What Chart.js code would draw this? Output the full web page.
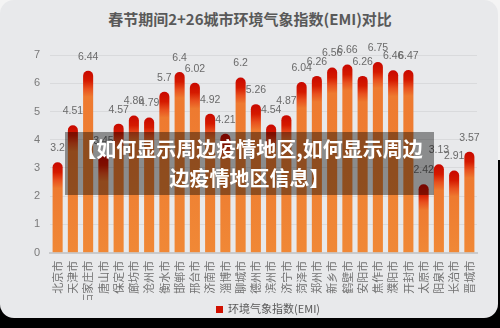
<!DOCTYPE html>
<html>
<head>
<meta charset="utf-8">
<script src="https://cdn.jsdelivr.net/npm/chart.js@4"></script>
<style>
  html, body { margin:0; padding:0; }
  body { width:500px; height:328px; background:linear-gradient(to bottom,#f4f4f4 0 160px,#000 160px); position:relative; overflow:hidden; }
  #card { position:absolute; left:0; top:0; width:498px; height:318px; background:#E8E9EB; border-radius:14px; }
  #title { position:absolute; left:0; top:8px; width:500px; text-align:center; font:bold 15px "Noto Sans CJK SC", sans-serif; color:#595959; }
  #wrap { position:absolute; left:0; top:0; width:500px; height:318px; }
  #legend { position:absolute; left:216px; top:300px; font:11px "Noto Sans CJK SC", sans-serif; color:#595959; }
  #legend i { display:inline-block; width:7px; height:7px; background:#D01000; margin-right:5px; vertical-align:0px; }
  #banner { position:absolute; left:65px; top:132px; width:369px; height:63px; background:rgba(0,0,0,0.4); color:#fff; text-align:center; font:bold 20px "Noto Sans CJK SC", sans-serif; line-height:29px; padding-top:2px; box-sizing:border-box; }
</style>
</head>
<body>
<div id="card"></div>
<div id="title">春节期间2+26城市环境气象指数(EMI)对比</div>
<div id="wrap"><canvas id="myChart" width="500" height="318"></canvas></div>
<div id="legend"><i></i>环境气象指数(EMI)</div>
<div id="banner">【如何显示周边疫情地区,如何显示周边<br>边疫情地区信息】</div>
<script>
const cities = ['北京市','天津市','石家庄市','唐山市','保定市','廊坊市','沧州市','衡水市','邯郸市','邢台市',
  '济南市','淄博市','聊城市','德州市','滨州市','济宁市','菏泽市','郑州市','新乡市','鹤壁市',
  '安阳市','焦作市','濮阳市','开封市','太原市','阳泉市','长治市','晋城市']
const emi = [3.2,4.51,6.44,3.45,4.57,4.86,4.79,5.7,6.4,6.02,
  4.92,4.21,6.2,5.26,4.54,4.87,6.04,6.26,6.56,6.66,
  6.26,6.75,6.46,6.47,2.42,3.13,2.91,3.57]
const yTicks = [0,1,2,3,4,5,6,7]

// gradient: red cap on top, orange body
function barFill(ctx){
  const chart = ctx.chart
  const y = chart.scales.y
  if (!y || ctx.raw == null) return '#EE7A30'
  const top = y.getPixelForValue(ctx.raw)
  const base = y.getPixelForValue(0)
  const h = base - top
  if (!isFinite(top) || !isFinite(base) || h <= 0) return '#EE7A30'
  const g = chart.ctx.createLinearGradient(0, top, 0, base)
  const f = px => Math.min(1, px / h)
  g.addColorStop(0, '#C80800')
  g.addColorStop(f(10), '#D51A00')
  g.addColorStop(f(18), '#E8501E')
  g.addColorStop(f(26), '#EE7A30')
  g.addColorStop(1, '#F08836')
  return g
}

const valueLabels = {
  id: 'valueLabels',
  afterDatasetsDraw(chart){
    const c = chart.ctx
    const meta = chart.getDatasetMeta(0)
    c.save()
    c.font = '10.5px "Liberation Sans", sans-serif'
    c.fillStyle = '#6a6a6a'
    c.textAlign = 'center'
    c.textBaseline = 'middle'
    meta.data.forEach((bar, i) => {
      c.fillText(String(emi[i]), bar.x, bar.y - 14)
    })
    c.restore()
  }
}

const chart = new Chart(
  document.getElementById('myChart'),
  {
    type: 'bar',
    data: {
      labels: cities,
      datasets: [
        {
          label: '环境气象指数(EMI)',
          data: emi,
          backgroundColor: barFill,
          borderRadius: {topLeft: 5, topRight: 5},
          borderSkipped: 'bottom',
          barPercentage: 0.66,
          categoryPercentage: 1
        }
      ]
    },
    options: {
      responsive: false,
      animation: false,
      layout: { padding: { left: 0, right: 23, top: 55, bottom: 18 } },
      plugins: { legend: { display: false }, title: { display: false }, tooltip: { enabled: false } },
      scales: {
        x: {
          grid: { display: false, drawTicks: false },
          border: { display: true, color: '#C9CACC', width: 2 },
          ticks: { minRotation: 90, maxRotation: 90, autoSkip: false, padding: 8, color: '#727272',
                   font: { family: '"Noto Sans CJK SC", sans-serif', size: 11 } },
          afterFit(s){ s.height = 47.3 }
        },
        y: {
          min: 0, max: 7,
          afterBuildTicks(s){ s.ticks = yTicks.map(v => ({value: v})) },
          grid: { color: '#D9DADC', drawTicks: false },
          border: { display: false },
          ticks: { padding: 10, color: '#7a7a7a', font: { family: '"Liberation Sans", sans-serif', size: 11 } },
          afterFit(s){ s.width = 50 }
        }
      }
    },
    plugins: [valueLabels]
  }
)
</script>
</body>
</html>
